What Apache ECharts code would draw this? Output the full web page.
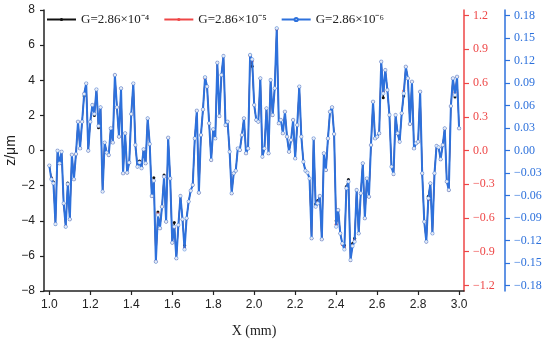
<!DOCTYPE html>
<html><head><meta charset="utf-8">
<script src="https://cdn.jsdelivr.net/npm/echarts@6/dist/echarts.min.js"></script>
<style>html,body{margin:0;padding:0;background:#fff}#c{width:550px;height:341px}</style>
</head><body><div id="c"></div>
<script>
const xValues = [
1.00,1.01,1.02,1.03,1.04,1.05,1.06,1.07,1.08,1.09,1.10,1.11,1.12,1.13,1.14,1.15,1.16,1.17,1.18,1.19,
1.20,1.21,1.22,1.23,1.24,1.25,1.26,1.27,1.28,1.29,1.30,1.31,1.32,1.33,1.34,1.35,1.36,1.37,1.38,1.39,
1.40,1.41,1.42,1.43,1.44,1.45,1.46,1.47,1.48,1.49,1.50,1.51,1.52,1.53,1.54,1.55,1.56,1.57,1.58,1.59,
1.60,1.61,1.62,1.63,1.64,1.65,1.66,1.67,1.68,1.69,1.70,1.71,1.72,1.73,1.74,1.75,1.76,1.77,1.78,1.79,
1.80,1.81,1.82,1.83,1.84,1.85,1.86,1.87,1.88,1.89,1.90,1.91,1.92,1.93,1.94,1.95,1.96,1.97,1.98,1.99,
2.00,2.01,2.02,2.03,2.04,2.05,2.06,2.07,2.08,2.09,2.10,2.11,2.12,2.13,2.14,2.15,2.16,2.17,2.18,2.19,
2.20,2.21,2.22,2.23,2.24,2.25,2.26,2.27,2.28,2.29,2.30,2.31,2.32,2.33,2.34,2.35,2.36,2.37,2.38,2.39,
2.40,2.41,2.42,2.43,2.44,2.45,2.46,2.47,2.48,2.49,2.50,2.51,2.52,2.53,2.54,2.55,2.56,2.57,2.58,2.59,
2.60,2.61,2.62,2.63,2.64,2.65,2.66,2.67,2.68,2.69,2.70,2.71,2.72,2.73,2.74,2.75,2.76,2.77,2.78,2.79,
2.80,2.81,2.82,2.83,2.84,2.85,2.86,2.87,2.88,2.89,2.90,2.91,2.92,2.93,2.94,2.95,2.96,2.97,2.98,2.99,
3.00];

const zBlue = [
-0.86,-1.64,-1.87,-4.19,-0.01,-0.73,-0.07,-3.01,-4.34,-1.91,
-3.92,-0.24,-1.64,-0.20,1.64,0.12,1.64,3.22,3.82,-0.01,
1.64,2.59,2.08,3.48,1.40,2.46,-2.34,0.45,-0.12,-0.26,
1.26,0.45,4.30,2.46,0.79,3.54,-1.30,0.98,-1.26,-0.69,
2.08,3.82,0.31,-0.92,-0.69,-1.01,0.07,-0.73,1.83,
0.37,-2.59,-1.72,-6.33,-3.67,-4.43,-3.20,-1.49,-4.05,0.73,
-1.59,-5.25,-4.34,-6.14,-4.24,-2.59,-3.92,-5.63,-3.86,-2.91,
-2.29,-1.96,0.69,2.27,-2.40,0.88,2.34,4.17,3.64,1.55,
-0.54,1.21,0.69,5.00,1.96,4.30,5.38,1.45,1.64,-0.07,
-2.44,-1.30,-1.15,0.12,0.03,0.88,1.83,-0.16,0.12,5.44,
5.19,2.59,1.74,1.64,
4.11,-0.35,0.12,2.40,-0.16,4.01,2.02,3.54,6.96,1.55,
1.74,0.98,2.21,0.79,-0.07,0.60,1.74,-0.45,1.45,3.64,
0.79,-0.64,-1.15,-1.26,-1.59,-5.00,0.69,-3.20,-3.01,-2.59,
-5.06,-0.16,-1.11,0.69,2.21,2.46,0.94,-4.34,-3.39,-4.72,
-5.29,-5.63,-2.15,-1.77,-6.24,-5.44,-5.19,-2.25,-4.72,-2.44,
-0.73,-3.86,-1.59,-2.63,0.31,2.78,0.69,0.79,0.98,5.06,
3.25,4.58,3.44,2.02,-0.92,-1.34,2.02,0.98,0.50,2.12,
3.25,4.77,4.11,1.51,3.92,0.12,0.41,0.50,3.35,-1.30,
-4.05,-5.19,-2.72,-1.87,-4.72,-1.30,0.26,0.18,-0.50,0.31,
1.26,-1.77,-2.25,2.53,4.11,3.16,4.20,1.26];

const zRed = [
-0.86,-1.60,-1.87,-4.15,-0.01,-0.73,-0.07,-3.01,-4.30,-1.95,
-3.92,-0.24,-1.64,-0.20,1.64,0.12,1.64,3.25,3.82,-0.01,
1.64,2.59,2.12,3.48,1.40,2.46,-2.34,0.45,-0.12,-0.26,
1.26,0.45,4.30,2.46,0.79,3.54,-1.30,0.98,-1.26,-0.69,
2.08,3.82,0.31,-0.92,-0.69,-1.01,0.07,-0.73,1.83,
0.37,-2.59,-1.72,-6.30,-3.60,-4.43,-3.20,-1.49,-4.05,0.73,
-1.59,-5.25,-4.40,-6.14,-4.24,-2.59,-3.92,-5.55,-3.86,-2.91,
-2.29,-1.96,0.69,2.27,-2.40,0.88,2.34,4.10,3.64,1.55,
-0.54,1.21,0.69,5.00,1.96,4.30,5.38,1.45,1.64,-0.07,
-2.44,-1.30,-1.15,0.12,0.03,0.88,1.83,-0.16,0.12,5.40,
5.10,2.59,1.74,1.64,
4.11,-0.35,0.12,2.40,-0.16,4.01,2.02,3.54,6.90,1.55,
1.74,0.98,2.21,0.79,-0.07,0.60,1.74,-0.45,1.45,3.64,
0.79,-0.64,-1.15,-1.26,-1.59,-5.00,0.69,-3.20,-2.95,-2.59,
-5.06,-0.16,-1.11,0.69,2.21,2.46,0.94,-4.20,-3.39,-4.72,
-5.35,-5.50,-2.15,-1.77,-6.24,-5.44,-5.10,-2.25,-4.72,-2.44,
-0.73,-3.86,-1.59,-2.63,0.31,2.78,0.69,0.79,0.98,5.06,
3.35,4.58,3.44,2.02,-0.92,-1.34,2.02,0.98,0.50,2.12,
3.40,4.77,4.11,1.51,3.92,0.12,0.41,0.50,3.35,-1.30,
-4.05,-5.19,-2.80,-1.87,-4.72,-1.30,0.26,0.18,-0.50,0.31,
1.26,-1.77,-2.25,2.53,4.11,3.30,4.20,1.26];

const zBlack = [
-0.86,-1.55,-1.80,-4.19,-0.01,-0.73,-0.07,-3.01,-4.34,-1.85,
-3.92,-0.24,-1.64,-0.20,1.64,0.12,1.64,3.10,3.82,-0.01,
1.64,2.59,2.00,3.48,1.30,2.46,-2.34,0.45,-0.12,-0.26,
1.26,0.45,4.30,2.46,0.79,3.54,-1.30,0.98,-1.26,-0.69,
2.08,3.82,0.31,-0.92,-0.60,-0.95,0.07,-0.73,1.83,
0.37,-2.59,-1.55,-6.33,-3.50,-4.43,-3.20,-1.40,-4.05,0.73,
-1.59,-5.25,-4.10,-6.14,-4.24,-2.59,-3.92,-5.40,-3.86,-2.91,
-2.29,-1.96,0.69,2.27,-2.40,0.88,2.34,4.17,3.64,1.55,
-0.54,1.21,0.69,5.00,1.96,4.30,5.38,1.45,1.64,-0.07,
-2.44,-1.30,-1.15,0.12,0.03,0.88,1.83,-0.16,0.12,5.44,
4.80,2.59,1.74,1.64,
4.11,-0.35,0.12,2.40,-0.16,4.01,2.02,3.54,6.96,1.55,
1.74,0.98,2.21,0.79,-0.07,0.60,1.74,-0.45,1.45,3.64,
0.79,-0.64,-1.15,-1.26,-1.59,-5.00,0.69,-3.05,-2.85,-2.59,
-5.06,-0.16,-1.11,0.69,2.21,2.46,0.94,-4.00,-3.39,-4.72,
-5.29,-5.40,-2.05,-1.65,-6.24,-5.30,-5.00,-2.25,-4.72,-2.44,
-0.73,-3.86,-1.59,-2.63,0.31,2.78,0.69,0.79,0.98,5.06,
3.00,4.58,3.44,2.02,-0.92,-1.34,2.02,0.98,0.50,2.12,
3.10,4.77,4.11,1.51,3.92,0.12,0.41,0.50,3.35,-1.30,
-4.05,-5.19,-2.60,-1.87,-4.72,-1.30,0.26,0.18,-0.50,0.31,
1.26,-1.77,-2.25,2.53,4.11,3.05,4.20,1.26];

const seriesNames = ['G=2.86×10\u207B\u2074', 'G=2.86×10\u207B\u2075', 'G=2.86×10\u207B\u2076'];
const xTicks = [1.0,1.2,1.4,1.6,1.8,2.0,2.2,2.4,2.6,2.8,3.0];
const redTicks = [-1.2,-0.9,-0.6,-0.3,0.0,0.3,0.6,0.9,1.2];
const blueTicks = [-0.18,-0.15,-0.12,-0.09,-0.06,-0.03,0.00,0.03,0.06,0.09,0.12,0.15,0.18];

const RED = '#ee4646';
const BLUE = '#2d71dc';
const fmt = (n) => (v) => (v < -1e-9 ? '\u2212' : '') + Math.abs(v).toFixed(n);
const pair = (ys) => xValues.map((x, i) => [x, ys[i]]);

const chart = echarts.init(document.getElementById('c'), null, {renderer: 'canvas'});
chart.setOption({
  animation: false,
  backgroundColor: '#fff',
  grid: {left: 44, right: 86, top: 10, bottom: 50, containLabel: false, outerBoundsMode: 'none'},
  legend: {
    left: 46, top: 13, padding: 0, itemWidth: 29, itemHeight: 4, itemGap: 14,
    textStyle: {fontFamily: 'Liberation Serif', fontSize: 13, color: '#222'},
    data: seriesNames
  },
  xAxis: {
    type: 'value', min: 0.974, max: 3.024,
    name: 'X (mm)', nameLocation: 'middle', nameGap: 33, nameMoveOverlap: false,
    nameTextStyle: {fontFamily: 'Liberation Serif', fontSize: 14, color: '#222'},
    axisLine: {onZero: false, lineStyle: {color: '#222', width: 1.5}},
    axisTick: {customValues: xTicks, length: 4, lineStyle: {color: '#222', width: 1.2}},
    axisLabel: {customValues: xTicks, formatter: fmt(1), margin: 8, fontFamily: 'Liberation Sans', fontSize: 12, color: '#222'},
    splitLine: {show: false}
  },
  yAxis: [
    {
      type: 'value', min: -8, max: 8, interval: 2,
      name: 'z/\u03bcm', nameLocation: 'middle', nameGap: 26, nameMoveOverlap: false,
      nameTextStyle: {fontFamily: 'Liberation Sans', fontSize: 14, color: '#222'},
      axisLine: {show: true, onZero: false, lineStyle: {color: '#222', width: 1.5}},
      axisTick: {show: true, length: 4, lineStyle: {color: '#222', width: 1.2}},
      axisLabel: {formatter: fmt(0), margin: 9, fontFamily: 'Liberation Sans', fontSize: 12, color: '#222'},
      splitLine: {show: false}
    },
    {
      type: 'value', position: 'right', min: -1.25, max: 1.25,
      axisLine: {show: true, onZero: false, lineStyle: {color: RED, width: 1.5}},
      axisTick: {show: true, customValues: redTicks, length: 5, lineStyle: {color: RED, width: 1.2}},
      axisLabel: {customValues: redTicks, formatter: fmt(1), margin: 9, fontFamily: 'Liberation Serif', fontSize: 12, color: RED},
      splitLine: {show: false}
    },
    {
      type: 'value', position: 'right', offset: 41, min: -0.1875, max: 0.1875,
      axisLine: {show: true, onZero: false, lineStyle: {color: BLUE, width: 1.5}},
      axisTick: {show: true, customValues: blueTicks, length: 5, lineStyle: {color: BLUE, width: 1.2}},
      axisLabel: {customValues: blueTicks, formatter: fmt(2), margin: 9, fontFamily: 'Liberation Serif', fontSize: 12, color: BLUE},
      splitLine: {show: false}
    }
  ],
  series: [
    {
      name: seriesNames[0], type: 'line', yAxisIndex: 0, data: pair(zBlack),
      symbol: 'circle', symbolSize: 3, showAllSymbol: true,
      lineStyle: {color: '#111', width: 1}, itemStyle: {color: '#111'}, z: 2
    },
    {
      name: seriesNames[1], type: 'line', yAxisIndex: 0, data: pair(zRed),
      symbol: 'circle', symbolSize: 3, showAllSymbol: true,
      lineStyle: {color: RED, width: 1}, itemStyle: {color: RED}, z: 3
    },
    {
      name: seriesNames[2], type: 'line', yAxisIndex: 0, data: pair(zBlue),
      symbol: 'circle', symbolSize: 3.5, showAllSymbol: true,
      lineStyle: {color: BLUE, width: 2}, itemStyle: {color: '#e4ebf6', borderColor: BLUE, borderWidth: 0.4}, z: 4
    }
  ]
});
</script>
</body></html>
